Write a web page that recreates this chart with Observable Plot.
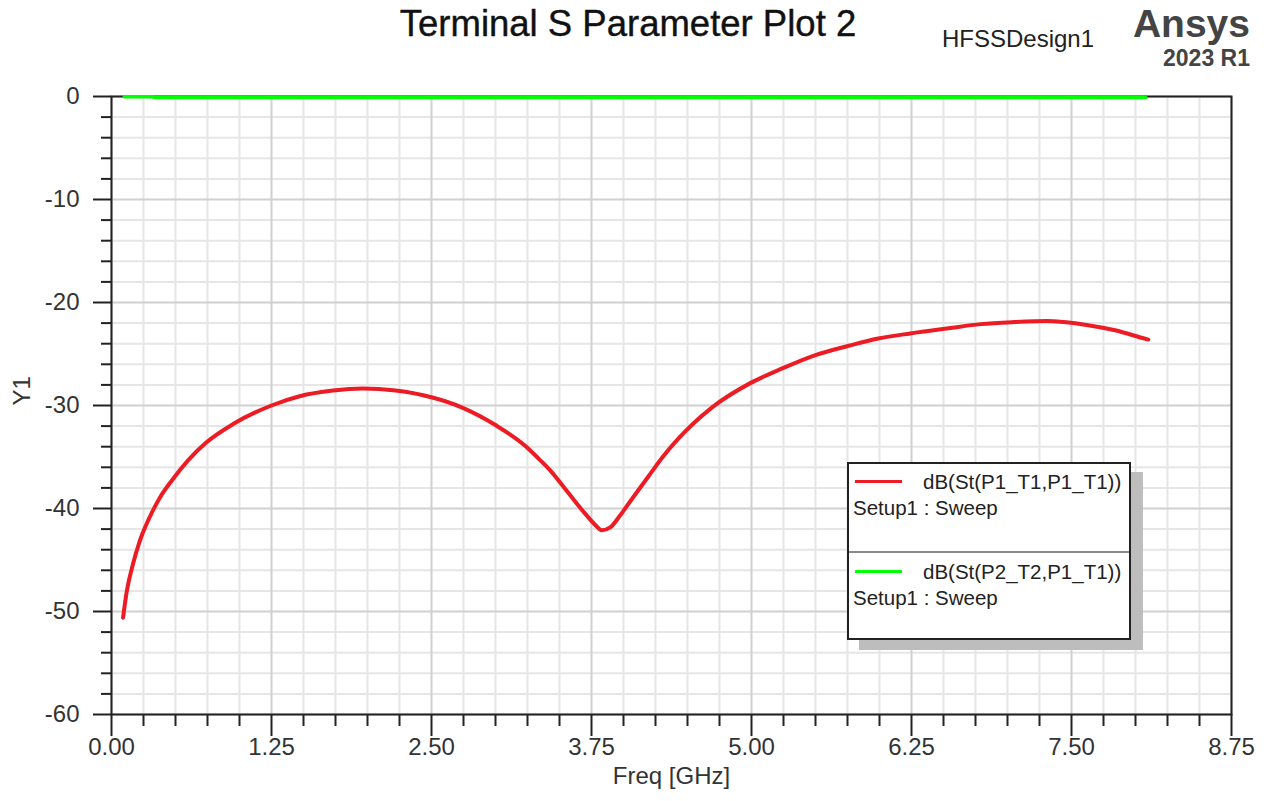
<!DOCTYPE html>
<html>
<head>
<meta charset="utf-8">
<script src="https://cdn.jsdelivr.net/npm/d3@7"></script>
<script src="https://cdn.jsdelivr.net/npm/@observablehq/plot@0.6"></script>
<style>
  html, body { margin: 0; padding: 0; background: #fff; }
  #wrap { position: relative; width: 1266px; height: 801px; font-family: "Liberation Sans", Arial, sans-serif; overflow: hidden; }
  #chart { position: absolute; left: 0; top: 0; }
  .abs { position: absolute; line-height: 1; white-space: nowrap; }
  #legend { position: absolute; left: 847px; top: 462px; width: 284px; height: 178px; box-sizing: border-box;
            border: 2px solid #222; background: #fff; box-shadow: 12px 10px 0 #bdbdbd; }
  #legend .sw { position: absolute; height: 3px; width: 47px; left: 6px; }
  #legend .t { position: absolute; font-size: 20.5px; line-height: 24px; color: #222; white-space: nowrap; }
  #legend .div { position: absolute; left: 0; right: 0; height: 2px; background: #8a8a8a; }
</style>
</head>
<body>
<div id="wrap">
  <div id="chart"></div>
  <div class="abs" id="title" style="left:628px; top:6px; transform:translateX(-50%); font-size:36.5px; color:#111; -webkit-text-stroke:0.4px #111;"></div>
  <div class="abs" id="design" style="left:942px; top:27px; font-size:24px; color:#222;"></div>
  <div class="abs" id="brand" style="right:16px; top:4px; font-size:39px; font-weight:bold; color:#444;"></div>
  <div class="abs" id="version" style="right:16px; top:47px; font-size:23px; font-weight:bold; color:#444;"></div>
  <div id="legend"></div>
</div>
<script>
// ---- text ----
const titleText = "Terminal S Parameter Plot 2";
const designText = "HFSSDesign1";
const brandText = "Ansys";
const versionText = "2023 R1";
const xLabel = "Freq [GHz]";
const yLabel = "Y1";
const seriesNames = ["dB(St(P1_T1,P1_T1))", "dB(St(P2_T2,P1_T1))"];
const seriesSetup = ["Setup1 : Sweep", "Setup1 : Sweep"];
const seriesColors = ["#ed1c24", "#00ff00"];

// ---- ticks ----
const xMajorTicks = [0, 1.25, 2.5, 3.75, 5, 6.25, 7.5, 8.75];
const xMinorTicks = [0.25, 0.5, 0.75, 1.0, 1.5, 1.75, 2.0, 2.25, 2.75, 3.0, 3.25, 3.5, 4.0, 4.25, 4.5, 4.75,
                     5.25, 5.5, 5.75, 6.0, 6.5, 6.75, 7.0, 7.25, 7.75, 8.0, 8.25, 8.5];
const yMajorTicks = [0, -10, -20, -30, -40, -50, -60];
const yMinorTicks = [-2, -4, -6, -8, -12, -14, -16, -18, -22, -24, -26, -28, -32, -34, -36, -38,
                     -42, -44, -46, -48, -52, -54, -56, -58];

// ---- series: dB(St(P1_T1,P1_T1)) ----
const s11Freq = [0.09, 0.12, 0.17, 0.22, 0.30, 0.38, 0.47, 0.60, 0.74, 0.95, 1.25, 1.47, 1.73, 1.96, 2.22,
                 2.50, 2.74, 3.00, 3.24, 3.34, 3.42, 3.57, 3.70, 3.78, 3.83, 3.90, 3.96, 4.07, 4.20, 4.30,
                 4.43, 4.55, 4.69, 4.98, 5.24, 5.50, 5.76, 5.99, 6.24, 6.54, 6.79, 7.05, 7.31, 7.44, 7.63,
                 7.84, 8.07, 8.10];
const s11Db   = [-50.6, -48.0, -45.3, -43.2, -40.8, -38.9, -37.3, -35.3, -33.6, -31.8, -30.0, -29.1, -28.55, -28.35, -28.55,
                 -29.2, -30.2, -31.9, -34.0, -35.2, -36.2, -38.5, -40.5, -41.6, -42.1, -41.8, -40.9, -39.0, -36.8, -35.1,
                 -33.2, -31.7, -30.2, -27.9, -26.4, -25.1, -24.2, -23.5, -23.0, -22.5, -22.1, -21.9, -21.8, -21.9, -22.2,
                 -22.7, -23.5, -23.6];

// ---- series: dB(St(P2_T2,P1_T1)) ----
const s21Freq = [0.10, 0.32, 0.34, 1.0, 2.0, 3.0, 4.0, 5.0, 6.0, 7.0, 8.08];
const s21Db   = [-0.02, -0.03, -0.1, -0.1, -0.1, -0.1, -0.1, -0.1, -0.1, -0.1, -0.1];

const s11 = s11Freq.map((f, i) => ({f, db: s11Db[i]}));
const s21 = s21Freq.map((f, i) => ({f, db: s21Db[i]}));

const axisColor = "#222";
const chart = Plot.plot({
  width: 1266,
  height: 801,
  marginLeft: 111,
  marginRight: 35,
  marginTop: 96,
  marginBottom: 87,
  style: {fontFamily: "'Liberation Sans', Arial, sans-serif", fontSize: "24px", color: "#333", background: "transparent", overflow: "visible"},
  x: {domain: [0, 8.75], label: null},
  y: {domain: [-60, 0], label: null},
  marks: [
    Plot.gridX(xMinorTicks, {stroke: "#e6e6e6", strokeOpacity: 1, strokeWidth: 2}),
    Plot.gridY(yMinorTicks, {stroke: "#e6e6e6", strokeOpacity: 1, strokeWidth: 2}),
    Plot.gridX(xMajorTicks, {stroke: "#d0d0d0", strokeOpacity: 1, strokeWidth: 2}),
    Plot.gridY(yMajorTicks, {stroke: "#d0d0d0", strokeOpacity: 1, strokeWidth: 2}),
    Plot.axisX(xMinorTicks, {tickSize: 12, tickFormat: () => "", stroke: axisColor, strokeWidth: 2, label: null}),
    Plot.axisX(xMajorTicks, {tickSize: 22, tickPadding: 1, tickFormat: d => d.toFixed(2), stroke: axisColor, strokeWidth: 2, label: null}),
    Plot.axisY(yMinorTicks, {tickSize: 10, tickFormat: () => "", stroke: axisColor, strokeWidth: 2, label: null}),
    Plot.axisY(yMajorTicks, {tickSize: 18, tickPadding: 14, tickFormat: d => String(d), stroke: axisColor, strokeWidth: 2, label: null}),
    Plot.frame({stroke: axisColor, strokeWidth: 2}),
    Plot.line(s11, {x: "f", y: "db", stroke: seriesColors[0], strokeWidth: 4, curve: "monotone-x"}),
    Plot.line(s21, {x: "f", y: "db", stroke: seriesColors[1], strokeWidth: 3.5}),
    Plot.text([xLabel], {frameAnchor: "bottom", dy: 69, fontSize: 24, fill: "#333", text: d => d}),
    Plot.text([yLabel], {frameAnchor: "left", dx: -89, rotate: -90, fontSize: 24, fill: "#333", text: d => d})
  ]
});
document.getElementById("chart").appendChild(chart);

document.getElementById("title").textContent = titleText;
document.getElementById("design").textContent = designText;
document.getElementById("brand").textContent = brandText;
document.getElementById("version").textContent = versionText;

// legend
const legend = document.getElementById("legend");
const rowTops = [6, 96];
seriesNames.forEach((name, i) => {
  const top = rowTops[i];
  const sw = document.createElement("div");
  sw.className = "sw";
  sw.style.top = (top + 10) + "px";
  sw.style.background = seriesColors[i];
  legend.appendChild(sw);
  const t1 = document.createElement("div");
  t1.className = "t";
  t1.style.left = "74px";
  t1.style.top = top + "px";
  t1.textContent = name;
  legend.appendChild(t1);
  const t2 = document.createElement("div");
  t2.className = "t";
  t2.style.left = "4px";
  t2.style.top = (top + 26) + "px";
  t2.textContent = seriesSetup[i];
  legend.appendChild(t2);
});
const dv = document.createElement("div");
dv.className = "div";
dv.style.top = "87px";
legend.appendChild(dv);
</script>
</body>
</html>
